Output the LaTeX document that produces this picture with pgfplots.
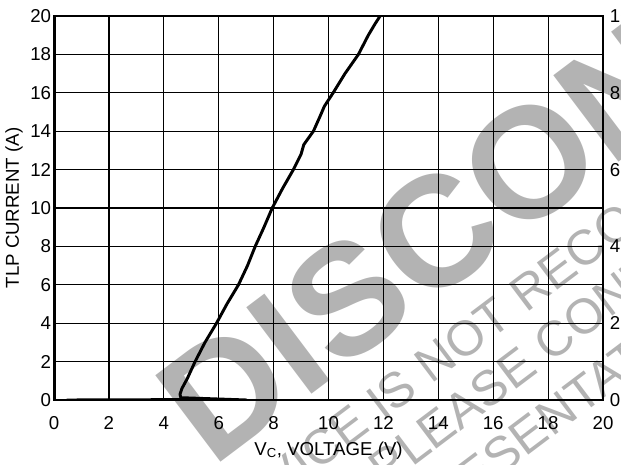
\documentclass[border=0pt]{standalone}
\usepackage{fontspec}
\setmainfont{Liberation Sans}
\usepackage{pgfplots}
\pgfplotsset{compat=1.18}
\definecolor{wm}{RGB}{179,179,179}

\begin{document}
\begin{tikzpicture}
% ---- watermark (drawn first, behind the chart) ----
\begin{scope}[every node/.style={rotate=37, inner sep=0pt, text=wm}]
\node[anchor=base west, font=\fontsize{118}{118}\selectfont\bfseries] at (119pt,-51.5pt) {DISCONTINUED};
\node[anchor=center, font=\fontsize{37}{37}\selectfont] (a1) at (306.75pt,45pt) {NOT};
\node[anchor=base east, font=\fontsize{37}{37}\selectfont] at (a1.base west) {THIS DEVICE IS\ \null};
\node[anchor=base west, font=\fontsize{37}{37}\selectfont] at (a1.base east) {\null\ RECOMMENDED FOR NEW DESIGN.};
\node[anchor=center, font=\fontsize{37}{37}\selectfont] (a2) at (336.75pt,16.5pt) {SE};
\node[anchor=base east, font=\fontsize{37}{37}\selectfont] at (a2.base west) {PLEA};
\node[anchor=base west, font=\fontsize{37}{37}\selectfont] at (a2.base east) {\null\ CONTACT YOUR ON SEMICONDUCTOR};
\node[anchor=center, font=\fontsize{37}{37}\selectfont] (a3) at (366.75pt,-17.25pt) {EN};
\node[anchor=base east, font=\fontsize{37}{37}\selectfont] at (a3.base west) {REPRES};
\node[anchor=base west, font=\fontsize{37}{37}\selectfont] at (a3.base east) {TATIVE FOR INFORMATION};
\end{scope}

\begin{axis}[
  scale only axis, width=411.75pt, height=288pt,
  xmin=0, xmax=20, ymin=0, ymax=20,
  xtick={0,2,...,20}, ytick={0,2,...,20},
  grid=major, major grid style={black, line width=0.9pt},
  axis line style={black, line width=1.2pt},
  tick style={draw=none},
  ticklabel style={font=\fontsize{14}{16}\selectfont},
  /pgf/number format/assume math mode=true,
  yticklabel style={anchor=east, inner sep=0pt, xshift=-2pt},
  xticklabel style={anchor=north, inner sep=0pt, yshift=-12pt},
  xlabel={V\textsubscript{C}, VOLTAGE (V)},
  ylabel={TLP CURRENT (A)},
  label style={font=\fontsize{14}{16}\selectfont},
  xlabel style={at={(axis description cs:0.5,0)}, anchor=base, inner sep=0pt, yshift=-41.25pt},
  ylabel style={at={(axis description cs:0,0.5)}, anchor=center, inner sep=0pt, yshift=30pt},
]
\draw[black, line width=2.5pt] (rel axis cs:0,0) -- (rel axis cs:0,1);
\addplot[black, line width=2.2pt, line join=round] coordinates {
  (0.46,0.0) (4.6,0.02) (7.02,0.0) (4.62,0.12) (4.59,0.3) (4.66,0.6) (4.85,1.1)
  (5.14,2) (5.5,3) (5.92,4) (6.3,5) (6.72,6) (7.05,7) (7.33,8) (7.65,9)
  (7.95,10) (8.32,11) (8.72,12) (9.0,12.8) (9.1,13.3) (9.45,14) (9.7,14.8)
  (9.85,15.3) (10.17,16) (10.6,17) (11.09,18) (11.45,19) (11.7,19.6) (11.88,20)
};
\end{axis}

\begin{axis}[
  scale only axis, width=411.75pt, height=288pt,
  xmin=0, xmax=20, ymin=0, ymax=10,
  axis y line*=right, axis x line=none,
  ytick={0,2,...,10},
  tick style={draw=none},
  axis line style={black, line width=1.2pt},
  ticklabel style={font=\fontsize{14}{16}\selectfont},
  /pgf/number format/assume math mode=true,
  yticklabel style={anchor=west, inner sep=0pt, xshift=5pt},
]
\end{axis}

\pgfresetboundingbox
\path (-40.5pt,-48pt) rectangle (425.25pt,300pt);
\end{tikzpicture}
\end{document}
